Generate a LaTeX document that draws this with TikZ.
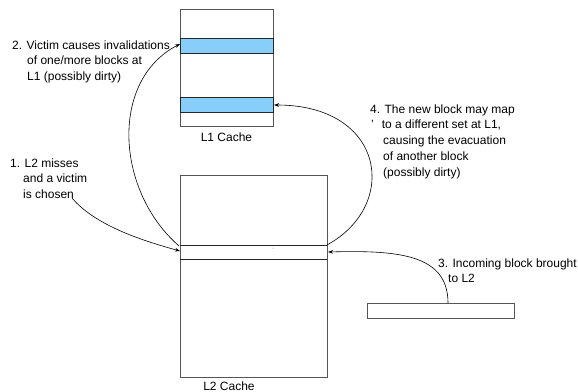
\documentclass[tikz,border=0pt]{standalone}
\usepackage{fontspec}
\setmainfont{Liberation Sans}
\usetikzlibrary{arrows.meta}
\definecolor{boxgray}{RGB}{85,85,85}
\definecolor{setblue}{RGB}{135,206,250}
\begin{document}
\begin{tikzpicture}[x=1pt,y=-1pt,
  cachebox/.style={draw=boxgray,line width=0.9pt},
  setband/.style={draw=black!85,line width=0.9pt,fill=setblue},
  lineband/.style={draw=black!85,line width=0.9pt},
  flow/.style={draw=black,line width=0.6pt,-{Stealth[length=5pt,width=3.6pt]}},
  note/.style={inner sep=0pt,anchor=base west,align=left,font=\fontsize{12}{15.8}\selectfont},
  caption/.style={inner sep=0pt,anchor=base,font=\fontsize{12}{14}\selectfont}]
\useasboundingbox (0,0) rectangle (578,391);

% L1 cache with two sets
\draw[cachebox] (180,9) rectangle (273,126);
\draw[setband] (180,38) rectangle (273,53);
\draw[setband] (180,97) rectangle (273,112);
\node[caption] (l1lbl) at (226.5,141) {L1 Cache};
\coordinate (l1a) at (180,44);
\coordinate (l1b) at (274,105);

% L2 cache with the victim set
\draw[cachebox] (180,175) rectangle (327,377);
\draw[lineband] (180,245) -- (327,245);
\draw[lineband] (180,259) -- (327,259);
\fill[black!50] (273,248) circle (0.5);
\node[caption] (l2lbl) at (229,390.5) {L2 Cache};
\coordinate (l2tl) at (179,246);
\coordinate (l2in) at (180,251);
\coordinate (l2tr) at (327,245);
\coordinate (l2r) at (328,252);

% incoming block
\draw[cachebox] (367,303) rectangle (514,318);
\coordinate (inc) at (448,303);

% notes (anchored at the baseline of their last line)
\node[note] (n1) at (10,198.6) {1. L2 misses\\\hspace*{13pt}and a victim\\\hspace*{13pt}is chosen};
\node[note] (n2) at (12,80.6) {2. Victim causes invalidations\\\hspace*{15pt}of one/more blocks at\\\hspace*{15pt}L1 (possibly dirty)};
\node[note] (n3) at (438,282.8) {3. Incoming block brought\\\hspace*{10pt}to L2};
\node[note] (n4) at (370,176.2) {4. The new block may map\\\hspace*{1pt}’\hspace*{8pt}to a different set at L1,\\\hspace*{13pt}causing the evacuation\\\hspace*{13pt}of another block\\\hspace*{13pt}(possibly dirty)};
\coordinate (n1end) at (72,198);

% connectors
\draw[flow] (n1end) .. controls (95,225) and (140,240) .. (l2in);
\draw[flow] (l2tl) .. controls (115,190) and (110,80) .. (l1a);
\draw[flow] (inc) .. controls (448,255) and (400,250) .. (l2r);
\draw[flow] (l2tr) .. controls (400,205) and (385,105) .. (l1b);
\end{tikzpicture}
\end{document}
